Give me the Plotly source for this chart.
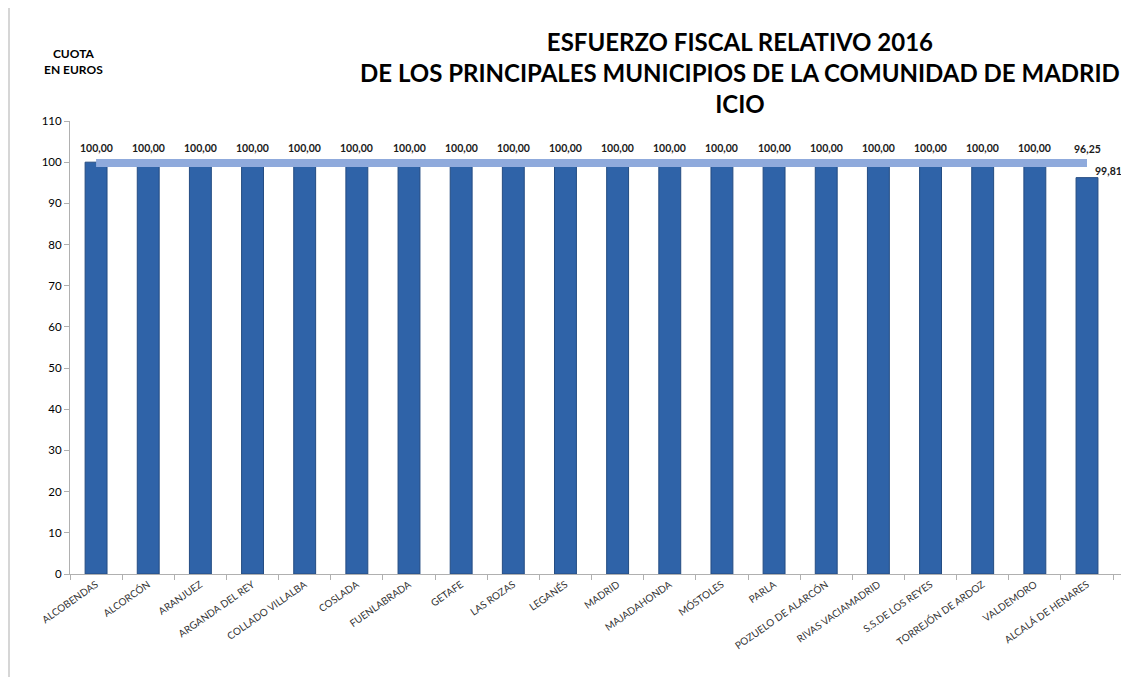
import plotly.graph_objects as go

categories = ["ALCOBENDAS", "ALCORCÓN", "ARANJUEZ", "ARGANDA DEL REY", "COLLADO VILLALBA",
              "COSLADA", "FUENLABRADA", "GETAFE", "LAS ROZAS", "LEGANÉS", "MADRID",
              "MAJADAHONDA", "MÓSTOLES", "PARLA", "POZUELO DE ALARCÓN", "RIVAS VACIAMADRID",
              "S.S.DE LOS REYES", "TORREJÓN DE ARDOZ", "VALDEMORO", "ALCALÁ DE HENARES"]
values = [100.00] * 19 + [96.25]
average = [99.81] * 20
y_ticks = list(range(0, 111, 10))

def fmt(v):
    return f"{v:.2f}".replace(".", ",")

font_family = "Lato, 'Open Sans', sans-serif"

# page body has an 8px margin; layout coordinates below compensate for it
OFF = 8
L, R, T, B = 70 - OFF, 1129 - 1124 + OFF, 121 - OFF, 677 - 574 + OFF
PW = 1129 - L - R
PH = 677 - T - B

def px_x(x):
    return (x - OFF - L) / PW

def px_y(y):
    return (677 - B - (y - OFF)) / PH

fig = go.Figure()
fig.add_trace(go.Bar(
    x=categories, y=values, width=0.42,
    marker=dict(color="#2F63A8", line=dict(color="#244C82", width=1)),
    hoverinfo="x+y", showlegend=False,
))
fig.add_trace(go.Scatter(
    x=categories, y=average, mode="lines",
    line=dict(color="#8FAADC", width=8),
    showlegend=False,
))

for c, v, a in zip(categories, values, average):
    fig.add_annotation(x=c, y=max(v, a), text=f"<b>{fmt(v)}</b>", showarrow=False,
                       yanchor="bottom", yshift=6,
                       font=dict(family=font_family, size=10.5, color="#1a1a1a"))
fig.add_annotation(x=categories[-1], y=average[-1], text=f"<b>{fmt(average[-1])}</b>",
                   showarrow=False, xanchor="left", yanchor="middle", xshift=6, yshift=-8,
                   font=dict(family=font_family, size=10.5, color="#1a1a1a"))

fig.add_annotation(xref="paper", yref="paper", x=px_x(42), y=px_y(44),
                   text="<b>CUOTA<br>EN EUROS</b>", showarrow=False,
                   font=dict(family=font_family, size=12, color="#000"))

fig.add_annotation(xref="paper", yref="paper", x=px_x(740), y=px_y(25), yanchor="top",
                   text="<b>ESFUERZO FISCAL RELATIVO 2016<br>DE LOS PRINCIPALES MUNICIPIOS DE LA COMUNIDAD DE MADRID<br>ICIO</b>",
                   showarrow=False,
                   font=dict(family=font_family, size=24, color="#000"))

fig.add_shape(type="line", xref="paper", yref="paper",
              x0=px_x(9), x1=px_x(9), y0=px_y(690), y1=px_y(0),
              line=dict(color="#c8c8c8", width=1.5))

fig.update_layout(
    width=1129, height=677,
    margin=dict(l=L, r=R, t=T, b=B),
    paper_bgcolor="white", plot_bgcolor="white",
    xaxis=dict(showline=True, linecolor="#b0b0b0", ticks="outside", tickson="boundaries",
               tickcolor="#b0b0b0", ticklen=5, tickangle=-35,
               tickfont=dict(family=font_family, size=10, color="#333")),
    yaxis=dict(range=[0, 110], tickvals=y_ticks, showgrid=False, zeroline=False,
               showline=True, linecolor="#b0b0b0", ticks="outside", tickcolor="#b0b0b0",
               ticklen=5, tickfont=dict(family=font_family, size=11.5, color="#000"),
               tickprefix="<b>", ticksuffix="</b>"),
)

fig.write_html("out.html")
